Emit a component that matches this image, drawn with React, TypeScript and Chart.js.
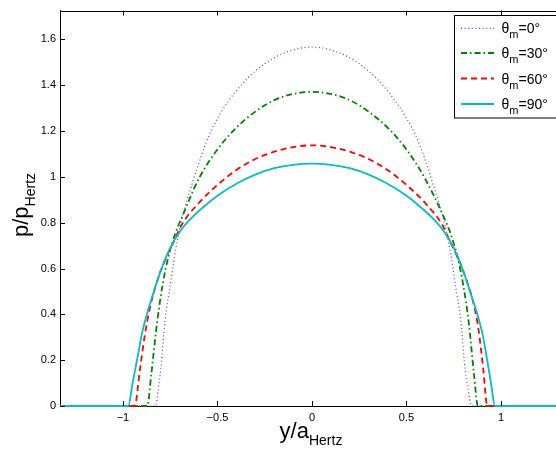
import React, { useEffect, useRef } from 'react';
import { Chart, registerables } from 'chart.js';

Chart.register(...registerables);

const FONT = '"Liberation Sans", Arial, Helvetica, sans-serif';

const X_MIN = -1.333;
const X_MAX = 1.291;
const Y_MIN = 0;
const Y_MAX = 1.726;

const xTickValues = [-1, -0.5, 0, 0.5, 1];
const yTickValues = [0, 0.2, 0.4, 0.6, 0.8, 1, 1.2, 1.4, 1.6];

const legendAngles = ['0°', '30°', '60°', '90°'];

// theta_m = 0°
const x0 = [-1.333, -0.828, -0.812, -0.8, -0.778, -0.751, -0.725, -0.69, -0.63, -0.55, -0.487, -0.4, -0.3, -0.2, -0.1, 0, 0.1, 0.2, 0.3, 0.4, 0.49, 0.56, 0.64, 0.7, 0.735, 0.76, 0.788, 0.81, 0.825, 0.845, 1.291];
const y0 = [0, 0, 0.08, 0.16, 0.37, 0.52, 0.665, 0.81, 0.98, 1.17, 1.274, 1.376, 1.462, 1.52, 1.554, 1.567, 1.554, 1.52, 1.462, 1.376, 1.27, 1.16, 0.97, 0.8, 0.66, 0.52, 0.37, 0.16, 0.08, 0, 0];

// theta_m = 30°
const x30 = [-1.333, -0.871, -0.85, -0.82, -0.79, -0.76, -0.72, -0.69, -0.6, -0.5, -0.4, -0.3, -0.2, -0.1, 0, 0.1, 0.2, 0.3, 0.4, 0.5, 0.6, 0.7, 0.73, 0.77, 0.8, 0.83, 0.857, 0.878, 1.291];
const y30 = [0, 0, 0.14, 0.36, 0.53, 0.65, 0.76, 0.82, 0.99, 1.12, 1.215, 1.285, 1.335, 1.362, 1.371, 1.362, 1.335, 1.285, 1.215, 1.12, 0.99, 0.82, 0.76, 0.65, 0.53, 0.36, 0.14, 0, 0];

// theta_m = 60°
const x60 = [-1.333, -0.938, -0.91, -0.884, -0.857, -0.813, -0.77, -0.735, -0.69, -0.6, -0.5, -0.4, -0.3, -0.2, -0.1, 0, 0.1, 0.2, 0.3, 0.4, 0.5, 0.6, 0.69, 0.735, 0.77, 0.813, 0.857, 0.88, 0.905, 0.928, 1.291];
const y60 = [0, 0, 0.16, 0.31, 0.43, 0.56, 0.65, 0.71, 0.79, 0.885, 0.965, 1.03, 1.078, 1.11, 1.13, 1.138, 1.13, 1.11, 1.078, 1.03, 0.965, 0.885, 0.79, 0.71, 0.65, 0.56, 0.44, 0.34, 0.17, 0, 0];

// theta_m = 90°
const x90 = [-1.333, -0.972, -0.95, -0.92, -0.9, -0.875, -0.85, -0.8, -0.75, -0.7, -0.65, -0.6, -0.5, -0.4, -0.3, -0.2, -0.1, 0, 0.1, 0.2, 0.3, 0.4, 0.5, 0.6, 0.65, 0.7, 0.75, 0.8, 0.85, 0.877, 0.902, 0.922, 0.948, 0.968, 1.291];
const y90 = [0, 0, 0.095, 0.225, 0.315, 0.395, 0.465, 0.59, 0.69, 0.76, 0.81, 0.85, 0.918, 0.97, 1.01, 1.038, 1.053, 1.058, 1.053, 1.038, 1.01, 0.97, 0.918, 0.85, 0.81, 0.76, 0.69, 0.59, 0.465, 0.395, 0.315, 0.225, 0.095, 0, 0];

const pts = (xs: number[], ys: number[]) => xs.map((x, i) => ({ x, y: ys[i] }));

const styles = [
  { color: 'rgb(70,70,255)', width: 1.2, dash: [1, 2.6] },
  { color: 'rgb(0,128,0)', width: 1.8, dash: [6, 3, 1.5, 3] },
  { color: 'rgb(255,0,0)', width: 1.8, dash: [6, 4] },
  { color: 'rgb(0,191,191)', width: 1.8, dash: [] as number[] },
];

const fmt = (v: number) => {
  const s = String(Number(v.toFixed(2)));
  return s.replace('-', '\u2212');
};

const decorPlugin = {
  id: 'decor',
  afterDraw(chart: any) {
    const ctx = chart.ctx as CanvasRenderingContext2D;
    const a = chart.chartArea;
    const xs = chart.scales.x;
    const ys = chart.scales.y;
    ctx.save();
    // top border
    ctx.strokeStyle = '#000';
    ctx.lineWidth = 1;
    ctx.setLineDash([]);
    ctx.beginPath();
    ctx.moveTo(a.left, Math.round(a.top) + 0.5);
    ctx.lineTo(a.right, Math.round(a.top) + 0.5);
    ctx.stroke();
    // inward ticks
    ctx.beginPath();
    xTickValues.forEach((v) => {
      const px = Math.round(xs.getPixelForValue(v)) + 0.5;
      ctx.moveTo(px, a.bottom);
      ctx.lineTo(px, a.bottom - 5);
      ctx.moveTo(px, a.top);
      ctx.lineTo(px, a.top + 5);
    });
    yTickValues.forEach((v) => {
      const py = Math.round(ys.getPixelForValue(v)) + 0.5;
      ctx.moveTo(a.left, py);
      ctx.lineTo(a.left + 5, py);
    });
    ctx.stroke();

    // legend
    const lx = 454.5, ly = 15.5, lw = 130, lh = 102.5;
    ctx.fillStyle = '#fff';
    ctx.fillRect(lx, ly, lw, lh);
    ctx.strokeStyle = '#000';
    ctx.lineWidth = 1;
    ctx.strokeRect(lx, ly, lw, lh);
    const rows = [28.3, 53, 78.5, 104];
    legendAngles.forEach((ang, i) => {
      const st = styles[i];
      const cy = rows[i];
      ctx.strokeStyle = st.color;
      ctx.lineWidth = st.width;
      ctx.setLineDash(st.dash);
      ctx.beginPath();
      ctx.moveTo(461, cy);
      ctx.lineTo(494, cy);
      ctx.stroke();
      ctx.setLineDash([]);
      ctx.fillStyle = '#000';
      ctx.textBaseline = 'alphabetic';
      ctx.textAlign = 'left';
      let tx = 501.5;
      ctx.font = `14px ${FONT}`;
      ctx.fillText('\u03b8', tx, cy + 5);
      tx += ctx.measureText('\u03b8').width;
      ctx.font = `11px ${FONT}`;
      ctx.fillText('m', tx, cy + 10);
      tx += ctx.measureText('m').width;
      ctx.font = `14px ${FONT}`;
      ctx.fillText('=' + ang, tx, cy + 5);
    });

    // axis titles
    ctx.fillStyle = '#000';
    ctx.textBaseline = 'alphabetic';
    ctx.textAlign = 'left';
    const drawTitle = (main: string, sub: string, cx: number, cyb: number, rotate: boolean) => {
      ctx.save();
      ctx.font = `22px ${FONT}`;
      const w1 = ctx.measureText(main).width;
      ctx.font = `14px ${FONT}`;
      const w2 = ctx.measureText(sub).width;
      const total = w1 + w2;
      if (rotate) {
        ctx.translate(cyb, cx);
        ctx.rotate(-Math.PI / 2);
      } else {
        ctx.translate(cx, cyb);
      }
      ctx.font = `22px ${FONT}`;
      ctx.fillText(main, -total / 2, 0);
      ctx.font = `14px ${FONT}`;
      ctx.fillText(sub, -total / 2 + w1, 7);
      ctx.restore();
    };
    drawTitle('y/a', 'Hertz', 311, 438, false);
    drawTitle('p/p', 'Hertz', 205, 28, true);
    ctx.restore();
  },
};

export default function App() {
  const ref = useRef<HTMLCanvasElement | null>(null);
  useEffect(() => {
    if (!ref.current) return;
    Chart.defaults.font.family = FONT;
    const datasets = [
      { data: pts(x0, y0), order: 4 },
      { data: pts(x30, y30), order: 3 },
      { data: pts(x60, y60), order: 2 },
      { data: pts(x90, y90), order: 1 },
    ].map((d, i) => ({
      label: legendAngles[i],
      data: d.data,
      order: d.order,
      borderColor: styles[i].color,
      borderWidth: styles[i].width,
      borderDash: styles[i].dash,
      pointRadius: 0,
      fill: false,
      cubicInterpolationMode: 'monotone' as const,
      clip: false as any,
    }));
    const chart = new Chart(ref.current, {
      type: 'line',
      data: { datasets },
      options: {
        animation: false,
        responsive: false,
        events: [],
        layout: { padding: { left: 0, right: 0, top: 9, bottom: 0 } },
        plugins: { legend: { display: false }, tooltip: { enabled: false } },
        scales: {
          x: {
            type: 'linear',
            min: X_MIN,
            max: X_MAX,
            grid: { display: false, drawTicks: false },
            border: { display: true, color: '#000', width: 1 },
            afterFit: (s: any) => { s.height = 46; },
            ticks: {
              stepSize: 0.5,
              includeBounds: false,
              autoSkip: false,
              maxRotation: 0,
              padding: 5,
              color: '#000',
              font: { size: 11, family: FONT },
              callback: (v: any) => fmt(Number(v)),
            },
          },
          y: {
            type: 'linear',
            min: Y_MIN,
            max: Y_MAX,
            grid: { display: false, drawTicks: false },
            border: { display: true, color: '#000', width: 1 },
            afterFit: (s: any) => { s.width = 60; },
            ticks: {
              stepSize: 0.2,
              includeBounds: false,
              autoSkip: false,
              padding: 4,
              color: '#000',
              font: { size: 11, family: FONT },
              callback: (v: any) => fmt(Number(v)),
            },
          },
        },
      },
      plugins: [decorPlugin],
    });
    return () => chart.destroy();
  }, []);
  return (
    <div style={{ position: 'absolute', left: 0, top: 0, width: 556, height: 452, background: '#fff' }}>
      <canvas ref={ref} width={556} height={452} style={{ display: 'block', width: 556, height: 452 }} />
    </div>
  );
}
